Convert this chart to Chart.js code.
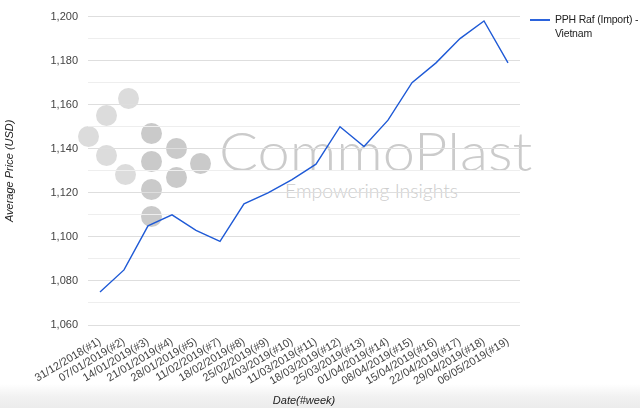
<!DOCTYPE html>
<html>
<head>
<meta charset="utf-8">
<script src="https://cdn.jsdelivr.net/npm/chart.js@4.4.1/dist/chart.umd.min.js"></script>
<style>
html,body{margin:0;padding:0;background:#fff;}
#wrap{position:relative;width:640px;height:408px;overflow:hidden;
  background:linear-gradient(to bottom,#fff 0px,#fff 384px,#f2f2f2 396px,#ececec 408px);}
#wm{position:absolute;left:0;top:0;width:640px;height:408px;}
.c{position:absolute;width:21px;height:21px;border-radius:50%;}
.l{background:#dcdcdc;}
.d{background:#cacaca;}
#wmt{position:absolute;left:219px;top:124px;font-family:"Lato","Open Sans",sans-serif;font-weight:300;font-size:53px;color:#cbcbcb;line-height:1;white-space:nowrap;transform-origin:0 0;transform:scaleX(1.09);}
#wms{position:absolute;left:285px;top:181px;font-family:"Lato","Open Sans",sans-serif;font-weight:300;font-size:19px;color:#cdcdcd;line-height:1;white-space:nowrap;transform-origin:0 0;transform:scaleX(1.02);}
canvas{position:absolute;left:0;top:0;}
#legend{position:absolute;left:530px;top:12px;font-family:"Liberation Sans",Arial,sans-serif;font-size:10.5px;letter-spacing:-0.2px;color:#222;line-height:14px;}
#legend .sw{position:absolute;left:0;top:7px;width:20px;height:2px;background:#2b63dc;}
#legend .tx{margin-left:25px;white-space:nowrap;}
</style>
</head>
<body>
<div id="wrap">
  <div id="wm">
    <div class="c l" style="left:78px;top:126px"></div>
    <div class="c l" style="left:96px;top:105px"></div>
    <div class="c l" style="left:118px;top:88px"></div>
    <div class="c l" style="left:96px;top:145px"></div>
    <div class="c l" style="left:115px;top:164px"></div>
    <div class="c d" style="left:141px;top:123px"></div>
    <div class="c d" style="left:141px;top:151px"></div>
    <div class="c d" style="left:141px;top:179px"></div>
    <div class="c d" style="left:141px;top:206px"></div>
    <div class="c d" style="left:166px;top:138px"></div>
    <div class="c d" style="left:166px;top:167px"></div>
    <div class="c d" style="left:190px;top:153px"></div>
    <div id="wmt">CommoPlast</div>
    <div id="wms">Empowering Insights</div>
  </div>
  <canvas id="chart" width="640" height="408"></canvas>
  <div id="legend"><div class="sw"></div><div class="tx">PPH Raf (Import) -<br>Vietnam</div></div>
</div>
<script>
const categories = ["31/12/2018(#1)","07/01/2019(#2)","14/01/2019(#3)","21/01/2019(#4)","28/01/2019(#5)","11/02/2019(#7)","18/02/2019(#8)","25/02/2019(#9)","04/03/2019(#10)","11/03/2019(#11)","18/03/2019(#12)","25/03/2019(#13)","01/04/2019(#14)","08/04/2019(#15)","15/04/2019(#16)","22/04/2019(#17)","29/04/2019(#18)","06/05/2019(#19)"];
const seriesName = "PPH Raf (Import) - Vietnam";
const seriesValues = [1075,1085,1105,1110,1103,1098,1115,1120,1126,1133,1150,1141,1153,1170,1179,1190,1198,1179];
const yTitle = "Average Price (USD)";
const xTitle = "Date(#week)";
const yMin = 1060, yMax = 1200, yStep = 10;

const font = {family:'"Liberation Sans", Arial, sans-serif', size:11};
new Chart(document.getElementById('chart'), {
  type:'line',
  data:{labels:categories, datasets:[{label:seriesName,data:seriesValues,borderColor:'#1f5ad6',borderWidth:1.4,pointRadius:0,fill:false,tension:0}]},
  options:{
    responsive:false, animation:false,
    layout:{padding:{left:0,right:120,top:15,bottom:0}},
    plugins:{legend:{display:false},tooltip:{enabled:false}},
    scales:{
      x:{
        offset:true,
        grid:{display:false,drawTicks:false},
        border:{display:false},
        ticks:{autoSkip:false,maxRotation:31,minRotation:31,padding:10,color:'#444',font:font},
        title:{display:true,text:xTitle,color:'#222',font:{...font,style:'italic'},padding:{top:0,bottom:0}},
        afterFit(s){s.height=83;}
      },
      y:{
        min:yMin,max:yMax,
        grid:{drawTicks:false,color:c=>(c.tick && c.tick.value%20===0)?'#dedede':'#eeeeee',lineWidth:1},
        border:{display:false},
        ticks:{stepSize:yStep,padding:10,color:'#444',font:font,
          callback:v=>v%20===0?v.toLocaleString('en-US'):''},
        title:{display:true,text:yTitle,color:'#222',font:{...font,style:'italic'},padding:{top:3,bottom:0}},
        afterFit(s){s.width=88;}
      }
    }
  }
});
</script>
</body>
</html>
